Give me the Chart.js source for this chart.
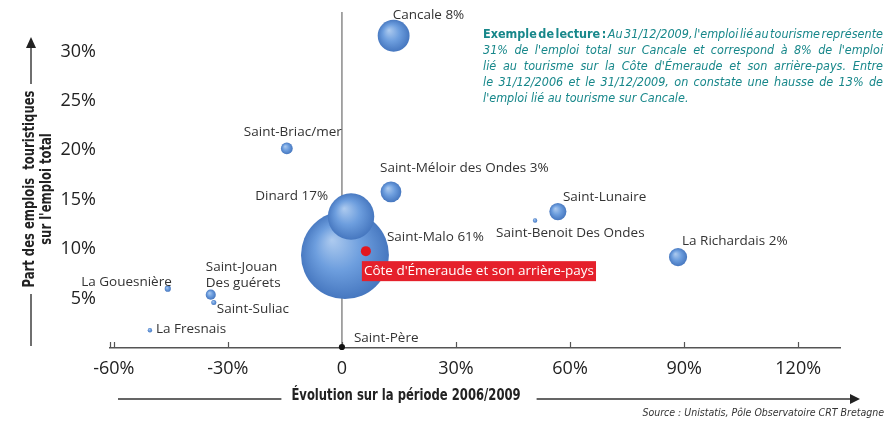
<!DOCTYPE html>
<html>
<head>
<meta charset="utf-8">
<script src="https://cdn.jsdelivr.net/npm/chart.js"></script>
<style>
  html, body { margin: 0; padding: 0; background: #fff; }
  #wrap { width: 890px; height: 424px; }
</style>
</head>
<body>
<div id="wrap"><canvas id="tourisme" width="890" height="424"></canvas></div>
<script>
// communes : évolution 2006/2009 (%), part de l'emploi touristique (%), poids dans l'emploi touristique de la zone (%)
const communes = ['Saint-Malo', 'Dinard', 'Cancale', 'Saint-Briac/mer', 'Saint-Méloir des Ondes', 'Saint-Lunaire',
  'Saint-Benoit Des Ondes', 'La Richardais', 'La Gouesnière', 'Saint-Jouan Des guérets', 'Saint-Suliac', 'La Fresnais', 'Saint-Père'];
const etiquettes = ['Saint-Malo 61%', 'Dinard 17%', 'Cancale 8%', 'Saint-Briac/mer', 'Saint-Méloir des Ondes 3%', 'Saint-Lunaire',
  'Saint-Benoit Des Ondes', 'La Richardais 2%', 'La Gouesnière', ['Saint-Jouan', 'Des guérets'], 'Saint-Suliac', 'La Fresnais', 'Saint-Père'];
const evolution = [0.8, 2.4, 13.6, -14.5, 12.9, 56.8, 50.8, 88.4, -45.8, -34.5, -33.7, -50.5, 0];
const partEmploi = [9.4, 13.3, 31.6, 20.2, 15.8, 13.8, 12.9, 9.2, 6.0, 5.4, 4.6, 1.8, 0.1];
const poids = [61, 17, 8, 1.1, 3.4, 2.3, 0.15, 2.6, 0.3, 0.8, 0.2, 0.15, 0.3];

// ensemble de la zone
const zoneNom = "Côte d'Émeraude et son arrière-pays";
const zoneEvolution = 6.3;
const zonePart = 9.8;

const xTicks = [-60, -30, 0, 30, 60, 90, 120];
const yTicks = [5, 10, 15, 20, 25, 30];

// position des étiquettes par rapport au centre de la bulle (px) : [dx, dy, align]
const labelPos = [
  [42, -18, 'left'], [-23, -20, 'right'], [-1, -21, 'left'], [6, -16, 'center'], [-11, -24, 'left'], [5, -14, 'left'],
  [-39, 13, 'left'], [4, -16, 'left'], [4, -7, 'right'], [-5, -27, 'left'], [3, 7, 'left'], [6, -1, 'left'], [12, -9, 'left']
];

const NARROW = '"Liberation Sans Narrow", "DejaVu Sans Condensed", "Open Sans", sans-serif';
const SANS = '"Open Sans", "Noto Sans", sans-serif';

function bubbleFill(ctx) {
  const chart = ctx.chart;
  const p = ctx.raw;
  if (ctx.dataIndex === communes.length - 1) return '#111';
  if (!p || !chart.scales.x || !chart.chartArea) return '#5b8fd0';
  const x = chart.scales.x.getPixelForValue(p.x);
  const y = chart.scales.y.getPixelForValue(p.y);
  const r = Math.max(p.r, 1);
  if (!isFinite(x) || !isFinite(y)) return '#5b8fd0';
  const g = chart.ctx.createRadialGradient(x - r * 0.3, y - r * 0.35, 0, x, y, r * 1.05);
  g.addColorStop(0, '#aecbef');
  g.addColorStop(0.5, '#6d9ede');
  g.addColorStop(1, '#4374bd');
  return g;
}

function drawJustified(c, words, x, y, width, justify) {
  let total = 0;
  words.forEach(w => { c.font = w.f; w.w = c.measureText(w.t).width; total += w.w; });
  c.font = words[0].f;
  const sp = justify ? (width - total) / (words.length - 1) : c.measureText(' ').width;
  let cx = x;
  words.forEach(w => { c.font = w.f; c.fillText(w.t, cx, y); cx += w.w + sp; });
}

// texte compressé horizontalement (police étroite)
function fillNarrow(c, text, x, y, sx) {
  c.save();
  c.translate(x, y);
  c.scale(sx, 1);
  c.fillText(text, 0, 0);
  c.restore();
}

const decor = {
  id: 'decor',
  beforeDatasetsDraw(chart) {
    const c = chart.ctx, xs = chart.scales.x, ys = chart.scales.y;
    const x0 = xs.getPixelForValue(0);
    c.save();
    c.strokeStyle = '#8a8a8a';
    c.lineWidth = 1.5;
    c.beginPath();
    c.moveTo(x0, chart.chartArea.top);
    c.lineTo(x0, ys.bottom);
    c.stroke();
    // petites graduations vers le haut
    c.strokeStyle = '#555';
    c.lineWidth = 1.2;
    xTicks.concat([xs.min]).forEach(v => {
      const px = Math.round(xs.getPixelForValue(v)) + 0.5;
      c.beginPath();
      c.moveTo(px, ys.bottom);
      c.lineTo(px, ys.bottom - 6);
      c.stroke();
    });
    c.restore();
  },
  afterDatasetsDraw(chart) {
    const c = chart.ctx, xs = chart.scales.x, ys = chart.scales.y;
    c.save();
    c.font = '13.5px ' + SANS;
    c.fillStyle = '#333';
    c.textBaseline = 'middle';
    communes.forEach((n, i) => {
      const px = xs.getPixelForValue(evolution[i]);
      const py = ys.getPixelForValue(partEmploi[i]);
      const [dx, dy, al] = labelPos[i];
      c.textAlign = al;
      const t = etiquettes[i];
      if (Array.isArray(t)) {
        t.forEach((l, k) => c.fillText(l, px + dx, py + dy + k * 16));
      } else {
        c.fillText(t, px + dx, py + dy);
      }
    });
    // étiquette rouge de la zone
    const zx = xs.getPixelForValue(zoneEvolution);
    const zy = ys.getPixelForValue(zonePart);
    const w = c.measureText(zoneNom).width + 4;
    c.fillStyle = '#e5202b';
    c.fillRect(zx - 4, zy + 10, w, 20);
    c.fillStyle = '#fff';
    c.textAlign = 'left';
    c.fillText(zoneNom, zx - 2, zy + 20.5);
    c.restore();
  },
  afterDraw(chart) {
    const c = chart.ctx;
    c.save();
    c.fillStyle = '#222';
    c.strokeStyle = '#333';
    c.lineWidth = 1.4;
    // titre de l'axe horizontal
    c.font = 'bold 15px ' + NARROW;
    c.textAlign = 'center';
    c.textBaseline = 'middle';
    const sx = 0.86;
    const tx = 406, ty = 396;
    const xt = 'Évolution sur la période 2006/2009';
    const tw = c.measureText(xt).width * sx;
    fillNarrow(c, xt, tx, ty, sx);
    c.beginPath();
    c.moveTo(118, ty + 3); c.lineTo(tx - tw / 2 - 10, ty + 3);
    c.moveTo(tx + tw / 2 + 16, ty + 3); c.lineTo(852, ty + 3);
    c.stroke();
    c.beginPath();
    c.moveTo(860, ty + 3); c.lineTo(850, ty - 2); c.lineTo(850, ty + 8); c.closePath();
    c.fill();
    // titre de l'axe vertical
    c.save();
    c.rotate(-Math.PI / 2);
    fillNarrow(c, 'Part des emplois  touristiques', -189, 30, sx);
    fillNarrow(c, "sur l'emploi total", -189, 47, sx);
    c.restore();
    c.beginPath();
    c.moveTo(31, 48); c.lineTo(31, 84);
    c.moveTo(31, 294); c.lineTo(31, 346);
    c.stroke();
    c.beginPath();
    c.moveTo(31, 37); c.lineTo(26, 48); c.lineTo(36, 48); c.closePath();
    c.fill();
    // exemple de lecture
    c.fillStyle = '#17878a';
    c.textAlign = 'left';
    c.textBaseline = 'middle';
    const it = 'italic 12.5px ' + NARROW, bd = 'bold 12.5px ' + NARROW;
    const lines = [
      [['Exemple', bd], ['de', bd], ['lecture', bd], [':', bd]].concat("Au 31/12/2009, l'emploi lié au tourisme représente".split(' ').map(t => [t, it])),
      "31% de l'emploi total sur Cancale et correspond à 8% de l'emploi".split(' ').map(t => [t, it]),
      "lié au tourisme sur la Côte d'Émeraude et son arrière-pays. Entre".split(' ').map(t => [t, it]),
      'le 31/12/2006 et le 31/12/2009, on constate une hausse de 13% de'.split(' ').map(t => [t, it]),
      "l'emploi lié au tourisme sur Cancale.".split(' ').map(t => [t, it])
    ];
    lines.forEach((l, i) => {
      drawJustified(c, l.map(([t, f]) => ({ t, f })), 483, 35 + i * 16, 400, i < lines.length - 1);
    });
    // source
    c.fillStyle = '#333';
    c.font = 'italic 10.5px ' + NARROW;
    c.textAlign = 'right';
    c.fillText('Source : Unistatis, Pôle Observatoire CRT Bretagne', 884, 413);
    c.restore();
  }
};

new Chart('tourisme', {
  type: 'bubble',
  data: {
    datasets: [{
      label: zoneNom,
      order: 0,
      data: [{ x: zoneEvolution, y: zonePart, r: 5 }],
      backgroundColor: '#e3161f',
      borderWidth: 0
    }, {
      label: 'Communes',
      order: 1,
      data: communes.map((n, i) => ({ x: evolution[i], y: partEmploi[i], r: 5.63 * Math.sqrt(poids[i]) })),
      backgroundColor: bubbleFill,
      borderWidth: 0,
      clip: false
    }]
  },
  options: {
    responsive: false,
    animation: false,
    layout: { autoPadding: false, padding: { top: 12, right: 50, left: 0, bottom: 0 } },
    plugins: { legend: { display: false }, tooltip: { enabled: false } },
    scales: {
      x: {
        type: 'linear',
        min: -61,
        max: 131,
        afterBuildTicks: s => { s.ticks = xTicks.map(v => ({ value: v })); },
        afterFit: s => { s.height = 76; },
        ticks: {
          callback: v => v === 0 ? '0' : v + '%',
          font: { family: SANS, size: 18 },
          color: '#222',
          padding: 10,
          maxRotation: 0,
          autoSkip: false
        },
        grid: { display: false, drawTicks: false },
        border: { display: true, color: '#555', width: 1.5 }
      },
      y: {
        min: 0,
        max: 34,
        afterBuildTicks: s => { s.ticks = yTicks.map(v => ({ value: v })); },
        afterFit: s => { s.width = 110; s.paddingTop = 0; },
        ticks: {
          callback: v => v + '%',
          font: { family: SANS, size: 18 },
          color: '#222',
          padding: 14
        },
        grid: { display: false, drawTicks: false },
        border: { display: false }
      }
    }
  },
  plugins: [decor]
});
</script>
</body>
</html>
